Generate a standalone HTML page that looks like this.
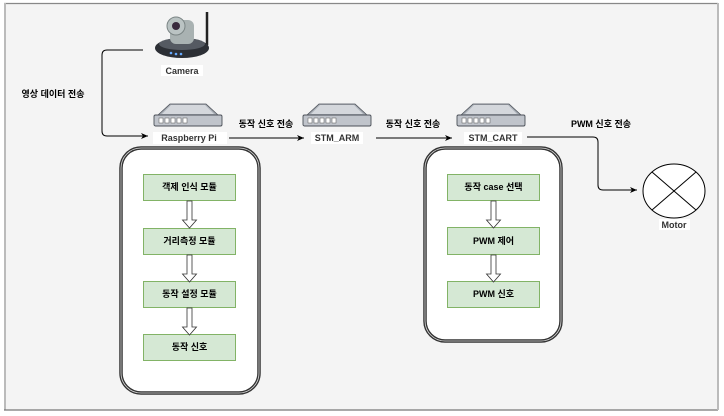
<!DOCTYPE html>
<html><head><meta charset="utf-8"><style>
html,body{margin:0;padding:0;background:#fff;width:724px;height:416px;overflow:hidden}
svg{display:block}
text{font-family:"Liberation Sans","Noto Sans CJK KR",sans-serif;font-size:9px;font-weight:bold;text-anchor:middle;fill:#000}
.lbl{fill:#333}
</style></head><body>
<svg width="724" height="416" viewBox="0 0 724 416" xmlns="http://www.w3.org/2000/svg">
<defs>
<marker id="ah" markerWidth="8" markerHeight="8" refX="7" refY="4" orient="auto" markerUnits="userSpaceOnUse">
<path d="M0,1 L7,4 L0,7 L2,4 Z" fill="#000"/></marker>
<g id="dev">
<path d="M4,12 L16,1 L52,1 L64,12 L64,15 L4,15 Z" fill="#a9aeb6" stroke="#4b5058" stroke-width="0.8"/>
<path d="M17,2 L51,2 L60,11 L8,11 Z" fill="#d4d7dc"/>
<rect x="0" y="12" width="68" height="11" rx="1.5" fill="#c0c4cb" stroke="#4b5058" stroke-width="0.9"/>
<g fill="#fff" stroke="#555" stroke-width="0.5">
<rect x="5" y="15" width="4" height="5"/><rect x="11" y="15" width="4" height="5"/><rect x="17" y="15" width="4" height="5"/><rect x="23" y="15" width="4" height="5"/><rect x="29" y="15" width="4" height="5"/></g>
</g>
<g id="harr"><path d="M-2.5,0 L2.5,0 L2.5,19 L7,19 L0,27 L-7,19 L-2.5,19 Z" fill="#fff" stroke="#333" stroke-width="0.8"/></g>
</defs>
<rect x="4" y="3" width="714" height="407" fill="#f4f4f4"/>
<line x1="4" y1="3.5" x2="718" y2="3.5" stroke="#888" stroke-width="1.2"/>
<line x1="5" y1="3" x2="5" y2="410" stroke="#bbb" stroke-width="2"/>
<line x1="4" y1="410" x2="718" y2="410" stroke="#777" stroke-width="1.2"/>
<line x1="718" y1="3" x2="718" y2="410" stroke="#bbb" stroke-width="2"/>

<g>
<line x1="207" y1="12" x2="207" y2="45" stroke="#222" stroke-width="2.5"/>
<ellipse cx="182" cy="48" rx="27" ry="10" fill="#2c2f35"/>
<ellipse cx="182" cy="44" rx="23" ry="6" fill="#555a62"/>
<rect x="170" y="20" width="24" height="24" rx="6" fill="#a9b2b2"/>
<ellipse cx="176" cy="26" rx="9" ry="9" fill="#bac3c3" stroke="#7b8585"/>
<circle cx="176" cy="26" r="4" fill="#3a2a3e"/>
<circle cx="171" cy="53" r="1.3" fill="#6af"/><circle cx="176" cy="54" r="1.3" fill="#6af"/><circle cx="181" cy="54" r="1.3" fill="#6af"/>
</g>
<rect x="161" y="65" width="42" height="11" fill="#fff"/>
<text x="182" y="74" class="lbl">Camera</text>

<path d="M143,50 L107,50 Q102,50 102,55 L102,131 Q102,136 107,136 L148,136" fill="none" stroke="#000" stroke-width="1" marker-end="url(#ah)"/>
<text x="53" y="97">영상 데이터 전송</text>

<use href="#dev" x="154" y="103"/>
<use href="#dev" x="303" y="103"/>
<use href="#dev" x="457" y="103"/>
<rect x="153" y="132" width="74" height="12" fill="#fff"/>
<text x="189" y="141" class="lbl">Raspberry Pi</text>
<rect x="311" y="132" width="52" height="12" fill="#fff"/>
<text x="337" y="141" class="lbl">STM_ARM</text>
<rect x="464" y="132" width="58" height="12" fill="#fff"/>
<text x="493" y="141" class="lbl">STM_CART</text>

<line x1="229" y1="138" x2="304" y2="138" stroke="#000" marker-end="url(#ah)"/>
<text x="266" y="127">동작 신호 전송</text>
<line x1="376" y1="138" x2="452" y2="138" stroke="#000" marker-end="url(#ah)"/>
<text x="413" y="127">동작 신호 전송</text>
<path d="M527,137 L593,137 Q598,137 598,142 L598,185 Q598,190 603,190 L637,190" fill="none" stroke="#000" marker-end="url(#ah)"/>
<text x="601" y="127">PWM 신호 전송</text>

<ellipse cx="674" cy="191" rx="31" ry="27" fill="#fff" stroke="#000"/>
<line x1="652" y1="172" x2="696" y2="210" stroke="#000"/>
<line x1="696" y1="172" x2="652" y2="210" stroke="#000"/>
<rect x="659" y="219" width="31" height="11" fill="#fff"/>
<text x="674" y="228" class="lbl">Motor</text>

<rect x="121" y="148" width="138" height="245" rx="20" fill="#fff" stroke="#333" stroke-width="3.5"/>
<rect x="121" y="148" width="138" height="245" rx="20" fill="none" stroke="#ddd" stroke-width="0.8"/>
<g fill="#d5e8d4" stroke="#82b366">
<rect x="143.5" y="174.5" width="92" height="26"/>
<rect x="143.5" y="228.5" width="92" height="26"/>
<rect x="143.5" y="281.5" width="92" height="26"/>
<rect x="143.5" y="334.5" width="92" height="26"/>
</g>
<use href="#harr" x="189.5" y="201"/>
<use href="#harr" x="189.5" y="255"/>
<use href="#harr" x="189.5" y="308"/>
<text x="189.5" y="190">객제 인식 모듈</text>
<text x="189.5" y="244">거리측정 모듈</text>
<text x="189.5" y="297">동작 설정 모듈</text>
<text x="189.5" y="350">동작 신호</text>

<rect x="425" y="148" width="136" height="193" rx="20" fill="#fff" stroke="#333" stroke-width="3.5"/>
<rect x="425" y="148" width="136" height="193" rx="20" fill="none" stroke="#ddd" stroke-width="0.8"/>
<g fill="#d5e8d4" stroke="#82b366">
<rect x="447.5" y="174.5" width="92" height="26"/>
<rect x="447.5" y="227.5" width="92" height="27"/>
<rect x="447.5" y="281.5" width="92" height="26"/>
</g>
<use href="#harr" x="493.5" y="201"/>
<use href="#harr" x="493.5" y="255"/>
<text x="493.5" y="190">동작 case 선택</text>
<text x="493.5" y="244">PWM 제어</text>
<text x="493.5" y="297">PWM 신호</text>
</svg>
</body></html>
